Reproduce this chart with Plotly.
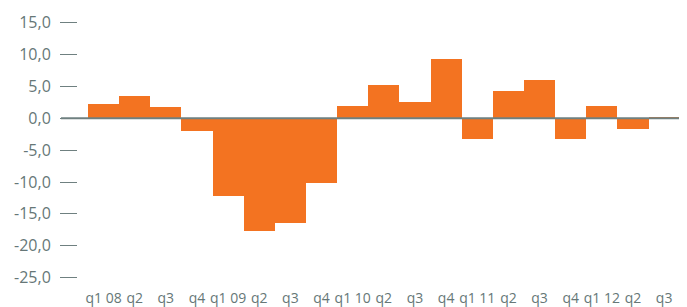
import plotly.graph_objects as go

categories = ["q1 08", "q2 08", "q3 08", "q4 08",
              "q1 09", "q2 09", "q3 09", "q4 09",
              "q1 10", "q2 10", "q3 10", "q4 10",
              "q1 11", "q2 11", "q3 11", "q4 11",
              "q1 12", "q2 12", "q3 12"]
tick_labels = ["q1 08", "q2", "q3", "q4", "q1 09", "q2", "q3", "q4",
               "q1 10", "q2", "q3", "q4", "q1 11", "q2", "q3", "q4",
               "q1 12", "q2", "q3"]
values = [2.2, 3.5, 1.8, -2.0,
          -12.2, -17.7, -16.4, -10.1,
          2.0, 5.3, 2.5, 9.4,
          -3.2, 4.3, 6.1, -3.3,
          2.0, -1.7, 0.1]
y_ticks = [15, 10, 5, 0, -5, -10, -15, -20, -25]
y_tick_labels = ["15,0", "10,0", "5,0", "0,0", "-5,0", "-10,0", "-15,0", "-20,0", "-25,0"]

ORANGE = "#F37321"
GREY = "#6f8080"
TEXT = "#667777"

x_idx = list(range(len(categories)))

fig = go.Figure(go.Bar(
    x=x_idx, y=values,
    marker=dict(color=ORANGE, line=dict(width=0)),
    width=1.0,
    hoverinfo="skip",
))

# page body has an 8px default margin, so the figure is 8px smaller and offset
fig.update_layout(
    width=679, height=299,
    margin=dict(l=70, r=2, t=5, b=19, autoexpand=False),
    paper_bgcolor="white", plot_bgcolor="white",
    showlegend=False,
    bargap=0,
    font=dict(family="Open Sans", color=TEXT),
    shapes=[dict(type="line", xref="paper", yref="y",
                 x0=-0.028, x1=1.0, y0=0, y1=0,
                 line=dict(color=GREY, width=2), layer="above")],
)
fig.update_xaxes(
    range=[-0.82, 18.67],
    tickmode="array", tickvals=x_idx, ticktext=tick_labels,
    showgrid=False, zeroline=False, showline=False, ticks="",
    tickfont=dict(size=14, color=TEXT),
    automargin=False,
    fixedrange=True,
)
fig.update_yaxes(
    range=[-26.65, 16.55],
    tickmode="array", tickvals=y_ticks, ticktext=y_tick_labels,
    showgrid=False, zeroline=False, showline=False,
    ticks="outside", ticklen=17, tickwidth=1.3, tickcolor=GREY,
    ticklabelstandoff=6,
    tickfont=dict(size=16, color=TEXT),
    automargin=False,
    fixedrange=True,
)

fig.write_html("out.html", config={"displayModeBar": False})
